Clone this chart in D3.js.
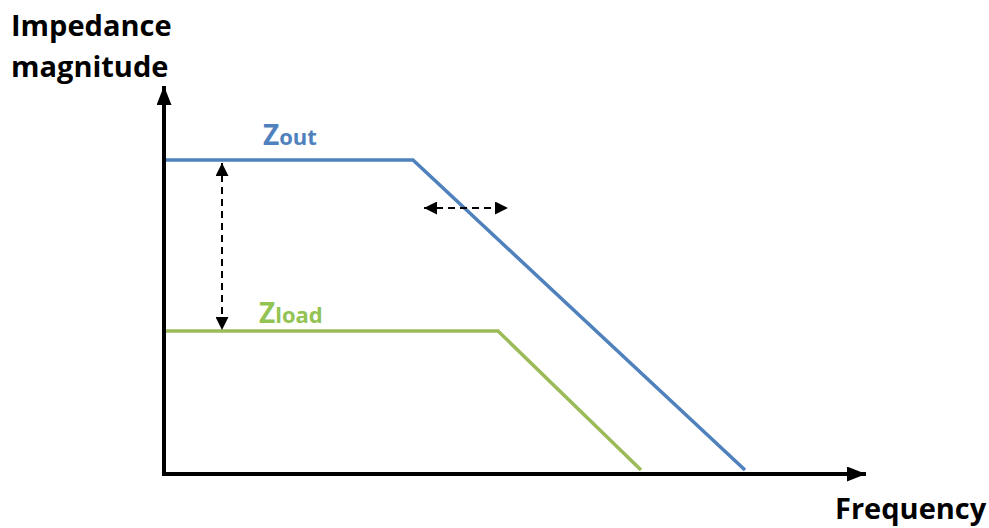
<!DOCTYPE html>
<html lang="en">
<head>
    <meta charset="UTF-8">
    <title>Impedance magnitude</title>
    <script src="https://d3js.org/d3.v7.min.js"></script>
    <style>
        body { margin: 0; background: #fff; }
        text { font-family: "Open Sans", Lato, sans-serif; font-weight: bold; }
    </style>
</head>
<body>
<svg></svg>
<script>

    var width = 989, height = 528;

    // frequency / magnitude in arbitrary units (no ticks on this sketch)
    var zoutFreq = [2, 249, 581];
    var zoutMag = [314, 314, 4];
    var zloadFreq = [2, 334, 477];
    var zloadMag = [143, 143, 4];

    // dashed arrows: margin between the two curves, and the corner shift
    var marginFreq = 58, marginMag = [311, 144];
    var shiftMag = 266, shiftFreq = [260, 344];

    var svg = d3.select("svg").attr("width", width).attr("height", height);

    var x = d3.scaleLinear().domain([0, 700]).range([164, 864]);
    var y = d3.scaleLinear().domain([0, 388]).range([474, 86]);

    var defs = svg.append("defs");
    function marker(id, len, wide) {
        defs.append("marker")
            .attr("id", id)
            .attr("viewBox", "0 0 " + len + " " + wide)
            .attr("refX", len).attr("refY", wide / 2)
            .attr("markerWidth", len).attr("markerHeight", wide)
            .attr("markerUnits", "userSpaceOnUse")
            .attr("orient", "auto-start-reverse")
            .append("path")
            .attr("d", "M0,0L" + len + "," + wide / 2 + "L0," + wide + "Z")
            .attr("fill", "#000");
    }
    marker("axisHead", 19, 15);
    marker("dashHead", 13, 13);

    var line = d3.line().x(function (d) { return x(d[0]); }).y(function (d) { return y(d[1]); });

    // curves
    svg.append("path")
        .datum(d3.zip(zloadFreq, zloadMag))
        .attr("d", line)
        .attr("fill", "none").attr("stroke", "#9bbb59").attr("stroke-width", 3.5);

    svg.append("path")
        .datum(d3.zip(zoutFreq, zoutMag))
        .attr("d", line)
        .attr("fill", "none").attr("stroke", "#4f81bd").attr("stroke-width", 3.5);

    // axes (plain arrows)
    svg.append("path")
        .attr("d", line([[0, 0], [0, 388]]))
        .attr("stroke", "#000").attr("stroke-width", 4).attr("fill", "none")
        .attr("marker-end", "url(#axisHead)");
    svg.append("path")
        .attr("d", line([[-2, 0], [702, 0]]))
        .attr("stroke", "#000").attr("stroke-width", 4).attr("fill", "none")
        .attr("marker-end", "url(#axisHead)");

    // dashed double arrows
    svg.append("path")
        .attr("d", line([[marginFreq, marginMag[0]], [marginFreq, marginMag[1]]]))
        .attr("stroke", "#000").attr("stroke-width", 2).attr("stroke-dasharray", "7,5")
        .attr("fill", "none")
        .attr("marker-start", "url(#dashHead)").attr("marker-end", "url(#dashHead)");
    svg.append("path")
        .attr("d", line([[shiftFreq[0], shiftMag], [shiftFreq[1], shiftMag]]))
        .attr("stroke", "#000").attr("stroke-width", 2).attr("stroke-dasharray", "7,5")
        .attr("fill", "none")
        .attr("marker-start", "url(#dashHead)").attr("marker-end", "url(#dashHead)");

    // axis titles
    svg.append("text").attr("x", 11).attr("y", 36).attr("font-size", 29).text("Impedance");
    svg.append("text").attr("x", 11).attr("y", 77).attr("font-size", 29).text("magnitude");
    svg.append("text").attr("x", 835).attr("y", 519).attr("font-size", 29).text("Frequency");

    // curve labels
    var zout = svg.append("text").attr("x", 263).attr("y", 145).attr("fill", "#4f81bd");
    zout.append("tspan").attr("font-size", 28).text("Z");
    zout.append("tspan").attr("font-size", 22).text("out");

    var zload = svg.append("text").attr("x", 259).attr("y", 323).attr("fill", "#92c353");
    zload.append("tspan").attr("font-size", 28).text("Z");
    zload.append("tspan").attr("font-size", 22).text("load");

</script>
</body>
</html>
